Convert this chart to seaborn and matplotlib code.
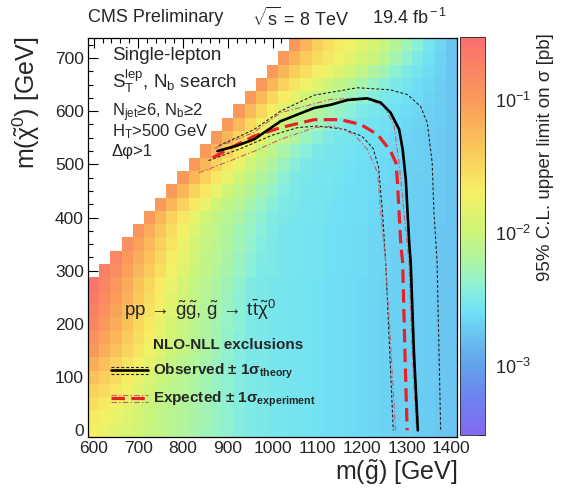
import numpy as np
import pandas as pd
import matplotlib
matplotlib.use("Agg")
import matplotlib.pyplot as plt
import seaborn as sns
from matplotlib.colors import LogNorm, LinearSegmentedColormap
from matplotlib.ticker import FixedLocator
from matplotlib.lines import Line2D

# ---------------- data ----------------
gluino_mass = list(range(600, 1401, 25))      # bin centres [GeV]
lsp_mass = list(range(0, 726, 25))            # bin centres [GeV]

# log10 of the 95% CL upper limit [pb]; each row ends at m(gluino)=1400
log10_limit = {
    0:   [-1.70, -1.77, -1.83, -1.90, -1.97, -2.03, -2.08, -2.13, -2.18, -2.24, -2.29, -2.34, -2.39, -2.45, -2.50,
          -2.51, -2.53, -2.54, -2.56, -2.57, -2.58, -2.60, -2.61, -2.63, -2.64, -2.65, -2.67, -2.68, -2.69, -2.71, -2.72, -2.74, -2.75],
    25:  [-1.65, -1.72, -1.80, -1.87, -1.95, -2.02, -2.07, -2.12, -2.18, -2.23, -2.28, -2.34, -2.39, -2.45, -2.50,
          -2.51, -2.53, -2.54, -2.56, -2.57, -2.58, -2.60, -2.61, -2.63, -2.64, -2.65, -2.67, -2.68, -2.69, -2.71, -2.72, -2.74, -2.75],
    50:  [-1.55, -1.64, -1.73, -1.82, -1.91, -2.00, -2.06, -2.11, -2.17, -2.22, -2.28, -2.33, -2.39, -2.44, -2.50,
          -2.51, -2.53, -2.54, -2.56, -2.57, -2.58, -2.60, -2.61, -2.63, -2.64, -2.65, -2.67, -2.68, -2.69, -2.71, -2.72, -2.74, -2.75],
    75:  [-1.45, -1.52, -1.63, -1.74, -1.85, -1.96, -2.04, -2.10, -2.15, -2.21, -2.27, -2.33, -2.39, -2.45, -2.50,
          -2.51, -2.53, -2.54, -2.56, -2.57, -2.58, -2.60, -2.61, -2.63, -2.64, -2.65, -2.67, -2.68, -2.69, -2.71, -2.72, -2.74, -2.75],
    100: [-1.30, -1.43, -1.55, -1.67, -1.79, -1.90, -2.01, -2.08, -2.14, -2.20, -2.26, -2.33, -2.39, -2.45, -2.50,
          -2.51, -2.53, -2.54, -2.56, -2.57, -2.58, -2.60, -2.61, -2.63, -2.64, -2.65, -2.67, -2.68, -2.69, -2.71, -2.72, -2.74, -2.75],
    125: [-1.15, -1.30, -1.44, -1.58, -1.70, -1.83, -1.95, -2.04, -2.11, -2.18, -2.25, -2.32, -2.39, -2.46, -2.51,
          -2.51, -2.53, -2.54, -2.56, -2.57, -2.58, -2.60, -2.61, -2.63, -2.64, -2.65, -2.67, -2.68, -2.69, -2.71, -2.72, -2.74, -2.75],
    150: [-1.00, -1.16, -1.31, -1.47, -1.60, -1.73, -1.85, -1.98, -2.06, -2.14, -2.22, -2.30, -2.38, -2.45, -2.51,
          -2.51, -2.53, -2.54, -2.56, -2.57, -2.58, -2.60, -2.61, -2.63, -2.64, -2.65, -2.67, -2.68, -2.69, -2.71, -2.72, -2.74, -2.75],
    175: [-0.90, -1.07, -1.23, -1.40, -1.55, -1.68, -1.82, -1.95, -2.05, -2.13, -2.20, -2.28, -2.36, -2.44, -2.50,
          -2.51, -2.53, -2.54, -2.56, -2.57, -2.58, -2.60, -2.61, -2.63, -2.64, -2.65, -2.67, -2.68, -2.69, -2.71, -2.72, -2.74, -2.75],
    200: [-0.80, -0.98, -1.15, -1.33, -1.50, -1.64, -1.78, -1.92, -2.03, -2.11, -2.19, -2.27, -2.34, -2.42, -2.50,
          -2.51, -2.53, -2.54, -2.56, -2.57, -2.58, -2.60, -2.61, -2.63, -2.64, -2.65, -2.67, -2.68, -2.69, -2.71, -2.72, -2.74, -2.75],
    225: [-0.72, -0.90, -1.07, -1.25, -1.43, -1.58, -1.72, -1.86, -2.00, -2.08, -2.17, -2.25, -2.33, -2.42, -2.50,
          -2.51, -2.53, -2.54, -2.56, -2.57, -2.58, -2.60, -2.61, -2.63, -2.64, -2.65, -2.67, -2.68, -2.69, -2.71, -2.72, -2.74, -2.75],
    250: [-0.65, -0.83, -1.01, -1.19, -1.37, -1.54, -1.68, -1.83, -1.97, -2.07, -2.15, -2.23, -2.32, -2.40, -2.48,
          -2.51, -2.53, -2.54, -2.56, -2.57, -2.58, -2.60, -2.61, -2.63, -2.64, -2.65, -2.67, -2.68, -2.69, -2.71, -2.72, -2.74, -2.75],
    275: [-0.60, -0.78, -0.96, -1.14, -1.32, -1.50, -1.65, -1.79, -1.94, -2.05, -2.13, -2.22, -2.30, -2.38, -2.47,
          -2.51, -2.53, -2.54, -2.56, -2.57, -2.58, -2.60, -2.61, -2.63, -2.64, -2.65, -2.67, -2.68, -2.69, -2.71, -2.72, -2.74, -2.75],
    300: [-0.70, -0.87, -1.05, -1.22, -1.40, -1.56, -1.71, -1.85, -2.00, -2.08, -2.17, -2.25, -2.33, -2.42, -2.50,
          -2.51, -2.53, -2.54, -2.56, -2.57, -2.59, -2.60, -2.62, -2.63, -2.65, -2.66, -2.68, -2.69, -2.71, -2.72, -2.74, -2.75],
    325: [-0.80, -0.98, -1.15, -1.33, -1.50, -1.66, -1.81, -1.97, -2.07, -2.15, -2.23, -2.32, -2.40, -2.48,
          -2.51, -2.53, -2.54, -2.56, -2.57, -2.59, -2.60, -2.62, -2.63, -2.65, -2.66, -2.68, -2.69, -2.71, -2.72, -2.74, -2.75],
    350: [-0.88, -1.06, -1.24, -1.43, -1.60, -1.77, -1.92, -2.04, -2.12, -2.21, -2.29, -2.37, -2.46, -2.51,
          -2.53, -2.54, -2.56, -2.57, -2.59, -2.60, -2.62, -2.63, -2.65, -2.66, -2.68, -2.69, -2.71, -2.72, -2.74, -2.75],
    375: [-0.95, -1.15, -1.35, -1.55, -1.71, -1.87, -2.02, -2.10, -2.18, -2.27, -2.35, -2.43, -2.50,
          -2.53, -2.54, -2.56, -2.57, -2.59, -2.60, -2.62, -2.63, -2.65, -2.66, -2.68, -2.69, -2.71, -2.72, -2.74, -2.75],
    400: [-1.00, -1.23, -1.45, -1.63, -1.80, -1.97, -2.07, -2.15, -2.23, -2.32, -2.40, -2.48, -2.51,
          -2.53, -2.54, -2.56, -2.58, -2.59, -2.61, -2.62, -2.64, -2.66, -2.67, -2.69, -2.70, -2.72, -2.73, -2.75],
    425: [-1.00, -1.23, -1.45, -1.63, -1.80, -1.97, -2.07, -2.16, -2.25, -2.34, -2.43, -2.50,
          -2.52, -2.54, -2.55, -2.57, -2.59, -2.60, -2.62, -2.64, -2.65, -2.67, -2.68, -2.70, -2.72, -2.73, -2.75],
    450: [-1.00, -1.23, -1.45, -1.63, -1.80, -1.97, -2.08, -2.17, -2.27, -2.37, -2.46,
          -2.51, -2.53, -2.54, -2.56, -2.58, -2.60, -2.61, -2.63, -2.65, -2.66, -2.68, -2.70, -2.72, -2.73, -2.75],
    475: [-1.00, -1.23, -1.45, -1.63, -1.80, -1.97, -2.08, -2.19, -2.29, -2.40, -2.50,
          -2.52, -2.54, -2.55, -2.57, -2.59, -2.61, -2.63, -2.64, -2.66, -2.68, -2.70, -2.71, -2.73, -2.75],
    500: [-1.00, -1.23, -1.45, -1.63, -1.80, -1.97, -2.09, -2.20, -2.32, -2.43,
          -2.51, -2.53, -2.54, -2.56, -2.58, -2.60, -2.62, -2.64, -2.66, -2.68, -2.69, -2.71, -2.73, -2.75],
    525: [-1.00, -1.23, -1.45, -1.64, -1.82, -2.00, -2.11, -2.22, -2.33, -2.43,
          -2.51, -2.53, -2.55, -2.57, -2.59, -2.61, -2.63, -2.65, -2.67, -2.69, -2.71, -2.73, -2.75],
    550: [-1.00, -1.23, -1.45, -1.64, -1.82, -2.00, -2.10, -2.21, -2.31, -2.42,
          -2.50, -2.53, -2.55, -2.57, -2.59, -2.62, -2.64, -2.66, -2.68, -2.71, -2.73, -2.75],
    575: [-1.00, -1.25, -1.50, -1.68, -1.86, -2.02, -2.11, -2.20, -2.29, -2.38, -2.46,
          -2.52, -2.54, -2.57, -2.59, -2.62, -2.65, -2.67, -2.70, -2.72, -2.75],
    600: [-1.00, -1.25, -1.50, -1.68, -1.86, -2.02, -2.10, -2.18, -2.26, -2.34, -2.42, -2.50,
          -2.53, -2.56, -2.59, -2.63, -2.66, -2.69, -2.72, -2.75],
    625: [-1.00, -1.25, -1.50, -1.66, -1.81, -1.97, -2.06, -2.14, -2.22, -2.30, -2.38, -2.45,
          -2.52, -2.55, -2.59, -2.63, -2.67, -2.71, -2.75],
    650: [-1.00, -1.23, -1.45, -1.60, -1.73, -1.85, -1.98, -2.07, -2.16, -2.25, -2.34, -2.43,
          -2.51, -2.56, -2.61, -2.65, -2.70, -2.75],
    675: [-1.00, -1.21, -1.42, -1.56, -1.67, -1.77, -1.88, -1.98, -2.08, -2.19, -2.29, -2.40, -2.50,
          -2.56, -2.63, -2.69, -2.75],
    700: [-1.00, -1.19, -1.38, -1.54, -1.63, -1.73, -1.83, -1.92, -2.02, -2.14, -2.26, -2.38, -2.50,
          -2.58, -2.67, -2.75],
    725: [-1.00, -1.21, -1.42, -1.56, -1.65, -1.74, -1.83, -1.93, -2.03, -2.16, -2.29, -2.42, -2.54,
          -2.65, -2.75],
}

# exclusion contours (m_gluino, m_LSP) in GeV
obs_mg = [877, 920, 959, 1018, 1093, 1130, 1168, 1212, 1242, 1264, 1283, 1291, 1298, 1302, 1306, 1309, 1316, 1325]
obs_lsp = [525, 535, 547, 581, 606, 612, 621, 624, 616, 597, 566, 528, 472, 409, 347, 316, 150, 0]
obs_up_mg = [880, 958, 1018, 1093, 1190, 1264, 1302, 1331, 1346, 1357, 1361, 1368, 1376]
obs_up_lsp = [535, 565, 600, 630, 644, 640, 631, 609, 578, 503, 409, 316, 0]
obs_dn_mg = [857, 930, 1000, 1056, 1100, 1160, 1200, 1225, 1237, 1246, 1253, 1262, 1270]
obs_dn_lsp = [507, 530, 555, 569, 572, 566, 553, 530, 495, 409, 316, 150, 0]
exp_mg = [866, 906, 959, 1018, 1093, 1152, 1197, 1235, 1264, 1276, 1279, 1283, 1287, 1291, 1296, 1301]
exp_lsp = [512, 531, 553, 569, 584, 584, 575, 556, 525, 503, 472, 409, 347, 316, 150, 0]
exp_up_mg = [870, 958, 1018, 1130, 1205, 1250, 1272, 1283, 1294, 1305, 1312, 1322]
exp_up_lsp = [530, 560, 597, 622, 625, 609, 572, 503, 409, 316, 150, 0]
exp_dn_mg = [835, 900, 960, 1018, 1093, 1138, 1183, 1212, 1235, 1242, 1253, 1265, 1275]
exp_dn_lsp = [484, 505, 525, 547, 569, 572, 556, 528, 484, 409, 316, 150, 0]

x_ticks = [600, 700, 800, 900, 1000, 1100, 1200, 1300, 1400]
y_ticks = [0, 100, 200, 300, 400, 500, 600, 700]

# ---------------- style ----------------
sns.set_theme(style="white")
plt.rcParams.update({
    "font.family": ["Liberation Sans", "DejaVu Sans"],
    "mathtext.fontset": "custom",
    "mathtext.rm": "Liberation Sans",
    "mathtext.it": "Liberation Sans",
    "mathtext.bf": "Liberation Sans:bold",
    "mathtext.sf": "Liberation Sans",
})

palette_nodes = [
    (0.00, (130, 105, 240)), (0.09, (110, 130, 240)), (0.17, (100, 160, 235)),
    (0.24, (105, 190, 240)), (0.31, (112, 225, 245)), (0.37, (140, 240, 215)),
    (0.44, (175, 245, 160)), (0.51, (205, 245, 120)), (0.61, (245, 240, 100)),
    (0.72, (250, 200, 90)), (0.84, (250, 155, 90)), (1.00, (250, 110, 110)),
]
cmap = LinearSegmentedColormap.from_list(
    "roothot", [(p, tuple(c / 255 for c in rgb)) for p, rgb in palette_nodes])

fig = plt.figure(figsize=(5.61, 4.9), dpi=100)
ax = fig.add_axes([88 / 561, 53 / 490, 369 / 561, 399 / 490])

ncol = len(gluino_mass)
grid = np.full((len(lsp_mass), ncol), np.nan)
for i, m in enumerate(lsp_mass):
    row = log10_limit[m]
    grid[i, ncol - len(row):] = 10.0 ** np.array(row)
df = pd.DataFrame(grid, index=lsp_mass, columns=gluino_mass)

sns.heatmap(df, ax=ax, cmap=cmap, norm=LogNorm(vmin=3e-4, vmax=0.3), cbar=False,
            xticklabels=False, yticklabels=False)
ax.set_ylim(0, len(lsp_mass))
ax.set_xlim(0, ncol)

step = 25.0
def to_cells(mg, lsp):
    x = (np.asarray(mg, float) - (gluino_mass[0] - step / 2)) / step
    y = (np.asarray(lsp, float) - (lsp_mass[0] - step / 2)) / step
    return x, y

thin_dash = (0, (2.6, 1.8))
pink_dashdot = (0, (5, 2, 1.2, 2))
curves = [
    (obs_up_mg, obs_up_lsp, "#222222", 0.8, thin_dash),
    (obs_dn_mg, obs_dn_lsp, "#222222", 0.8, thin_dash),
    (exp_up_mg, exp_up_lsp, "#c86070", 0.8, pink_dashdot),
    (exp_dn_mg, exp_dn_lsp, "#c86070", 0.8, pink_dashdot),
    (exp_mg, exp_lsp, "#e8202a", 2.3, (0, (4.2, 2.0))),
    (obs_mg, obs_lsp, "black", 1.9, "-"),
]
for mg, lsp, col, lw, ls in curves:
    cx, cy = to_cells(mg, lsp)
    sns.lineplot(x=cx, y=cy, sort=False, estimator=None, color=col, lw=lw,
                 linestyle=ls, ax=ax, legend=False)

# ticks
xmaj, _ = to_cells(x_ticks, [0] * len(x_ticks))
_, ymaj = to_cells([0] * len(y_ticks), y_ticks)
xmin, _ = to_cells(list(range(600, 1401, 20)), [0] * 41)
_, ymin = to_cells([0] * 30, list(range(0, 726, 25)))
ax.xaxis.set_major_locator(FixedLocator(xmaj))
ax.yaxis.set_major_locator(FixedLocator(ymaj))
ax.xaxis.set_minor_locator(FixedLocator(xmin))
ax.yaxis.set_minor_locator(FixedLocator(ymin))
ax.set_xticklabels([str(v) for v in x_ticks])
ax.set_yticklabels([str(v) for v in y_ticks])
ax.tick_params(which="both", direction="in", top=True, right=True, bottom=True, left=True,
               color="black", width=0.8)
ax.tick_params(which="major", length=7, labelsize=12.5, pad=3)
ax.tick_params(which="minor", length=3.5)
for s in ax.spines.values():
    s.set_visible(True)
    s.set_color("black")
    s.set_linewidth(0.9)
ax.set_xlabel("")
ax.set_ylabel("")

# colour bar
cax = fig.add_axes([460 / 561, 55 / 490, 25 / 561, 398 / 490])
cb = fig.colorbar(ax.collections[0], cax=cax)
cb.outline.set_linewidth(0.6)
cax.tick_params(which="both", direction="in", right=True, left=False, color="#333333", width=0.8)
cax.tick_params(which="major", length=9, labelsize=13, pad=7)
cax.tick_params(which="minor", length=5)

# texts
fig.text(88 / 561, 1 - 18 / 490, "CMS Preliminary", fontsize=13, va="center", ha="left")
fig.text(252 / 561, 1 - 18 / 490, r"$\sqrt{\rm s}$ = 8 TeV", fontsize=13, va="center", ha="left")
fig.text(447 / 561, 1 - 18 / 490, r"19.4 fb$^{\rm -1}$", fontsize=13, va="center", ha="right")
fig.text(457 / 561, 1 - 472 / 490, r"m($\tilde{\rm g}$) [GeV]", fontsize=18, ha="right", va="center")
fig.text(26 / 561, 1 - 37 / 490, r"m($\tilde{\chi}^{\rm 0}$) [GeV]", fontsize=18, rotation=90,
         ha="center", va="top")
fig.text(545 / 561, 1 - 33 / 490, "95% C.L. upper limit on σ [pb]", fontsize=13.5, rotation=90,
         ha="center", va="top")

def axfrac(px, py):
    return (px - 88) / 369, (437 - py) / 399

tx, ty = axfrac(112, 55)
ax.text(tx, ty, "Single-lepton", transform=ax.transAxes, fontsize=13.5, va="center")
tx, ty = axfrac(112, 81)
ax.text(tx, ty, r"S$_{\rm T}^{\rm lep}$, N$_{\rm b}$ search", transform=ax.transAxes, fontsize=13.5, va="center")
tx, ty = axfrac(112, 113)
ax.text(tx, ty, r"N$_{\rm jet}$≥6, N$_{\rm b}$≥2", transform=ax.transAxes, fontsize=12, va="center")
tx, ty = axfrac(112, 132)
ax.text(tx, ty, r"H$_{\rm T}$>500 GeV", transform=ax.transAxes, fontsize=12, va="center")
tx, ty = axfrac(112, 151)
ax.text(tx, ty, "Δφ>1", transform=ax.transAxes, fontsize=12, va="center")
tx, ty = axfrac(124, 310)
ax.text(tx, ty, r"pp$\,\rightarrow\,\tilde{\rm g}\tilde{\rm g}$, $\tilde{\rm g}\,\rightarrow\,$t$\bar{\rm t}\tilde{\chi}^{\rm 0}$",
        transform=ax.transAxes, fontsize=13.5, va="center")
tx, ty = axfrac(153, 345)
ax.text(tx, ty, "NLO-NLL exclusions", transform=ax.transAxes, fontsize=11, fontweight="bold", va="center")
tx, ty = axfrac(153, 371)
ax.text(tx, ty, r"Observed ± 1σ$_{\mathbf{theory}}$", transform=ax.transAxes, fontsize=11,
        fontweight="bold", va="center")
tx, ty = axfrac(153, 399)
ax.text(tx, ty, r"Expected ± 1σ$_{\mathbf{experiment}}$", transform=ax.transAxes, fontsize=11,
        fontweight="bold", va="center")

# legend samples
x0, _ = axfrac(111, 0)
x1, _ = axfrac(148, 0)
_, yo = axfrac(0, 370)
_, ye = axfrac(0, 398)
dy = 3.5 / 399
for yy in (yo + dy, yo - dy):
    ax.add_line(Line2D([x0, x1], [yy, yy], transform=ax.transAxes, color="#222222", lw=0.8, ls=thin_dash))
ax.add_line(Line2D([x0, x1], [yo, yo], transform=ax.transAxes, color="black", lw=1.9))
for yy in (ye + dy, ye - dy):
    ax.add_line(Line2D([x0, x1], [yy, yy], transform=ax.transAxes, color="#c86070", lw=0.8, ls=pink_dashdot))
ax.add_line(Line2D([x0, x1], [ye, ye], transform=ax.transAxes, color="#e8202a", lw=2.3, ls=(0, (4.2, 2.0))))

fig.savefig("out.png", dpi=100)
